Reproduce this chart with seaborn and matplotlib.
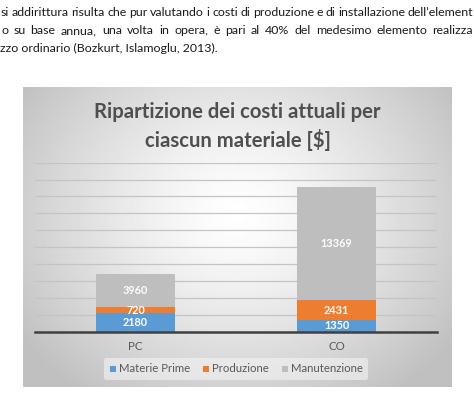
import numpy as np
import pandas as pd
import matplotlib
matplotlib.use("Agg")
import matplotlib.pyplot as plt
import seaborn as sns
from matplotlib.lines import Line2D

# ---------------- data ----------------
categories = ["PC", "CO"]
materie_prime = [2180, 1350]
produzione = [720, 2431]
manutenzione = [3960, 13369]
series_names = ["Materie Prime", "Produzione", "Manutenzione"]
series_colors = ["#5B9BD5", "#ED7D31", "#BEBEBE"]
y_ticks = list(range(0, 20001, 2000))
title_text = "Ripartizione dei costi attuali per\nciascun materiale [$]"
doc_lines = [
    "si addirittura risulta che pur valutando i costi di produzione e di installazione dell\u2019element",
    "o su base annua, una volta in opera, \u00e8 pari al 40% del medesimo elemento realizza",
    "zzo ordinario (Bozkurt, Islamoglu, 2013).",
]

sns.set_theme(style="white")
plt.rcParams['font.family'] = ['Lato', 'DejaVu Sans']

W, H = 474, 394
fig = plt.figure(figsize=(W / 100, H / 100), dpi=100)
fig.patch.set_facecolor("white")

# ---------------- document text above the chart ----------------
renderer = fig.canvas.get_renderer()
doc_size = 8.9
doc_y = [16, 34, 52]   # baselines in pixels from top
justify = [True, True, False]
for line, yy, jus in zip(doc_lines, doc_y, justify):
    if not jus:
        fig.text(0.5 / W, 1 - yy / H, line, ha="left", va="baseline",
                 fontsize=doc_size, color="#1a1a1a")
        continue
    words = line.split(" ")
    arts = [fig.text(0, 1 - yy / H, w, ha="left", va="baseline",
                     fontsize=doc_size, color="#1a1a1a") for w in words]
    widths = [a.get_window_extent(renderer).width for a in arts]
    x0, x1 = 1.0, 473.0
    gap = (x1 - x0 - sum(widths)) / (len(words) - 1)
    x = x0
    for a, wd in zip(arts, widths):
        a.set_x(x / W)
        x += wd + gap

# ---------------- chart box with radial gradient ----------------
box_l, box_t, box_r, box_b = 22.5, 87.3, 450.7, 386.7
bg = fig.add_axes([box_l / W, 1 - box_b / H, (box_r - box_l) / W, (box_b - box_t) / H])
ny, nx = 300, 428
yy, xx = np.mgrid[0:ny, 0:nx]
cx, cy = nx * 0.5, ny * 0.42
r = np.sqrt(((xx - cx) / (nx * 0.62)) ** 2 + ((yy - cy) / (ny * 0.75)) ** 2)
r = np.clip(r, 0, 1)
val = 1.0 - 0.25 * r ** 1.3
bg.imshow(val, cmap="gray", vmin=0, vmax=1, aspect="auto", interpolation="bilinear")
bg.set_axis_off()

# ---------------- plot area ----------------
pl, pr, pt, pb = 35, 437, 162.7, 331.7
ax = fig.add_axes([pl / W, 1 - pb / H, (pr - pl) / W, (pb - pt) / H])
ax.patch.set_alpha(0)

df = pd.DataFrame({
    "cat": categories,
    "mp": materie_prime,
    "prod": produzione,
    "man": manutenzione,
})
df["lvl1"] = df["mp"]
df["lvl2"] = df["mp"] + df["prod"]
df["lvl3"] = df["lvl2"] + df["man"]

bw = 0.39
for col, c in zip(["lvl3", "lvl2", "lvl1"], series_colors[::-1]):
    sns.barplot(data=df, x="cat", y=col, color=c, saturation=1, width=bw,
                ax=ax, zorder=3, linewidth=0, errorbar=None)

for i in range(len(df)):
    bottoms = [0, df["lvl1"][i], df["lvl2"][i]]
    vals = [df["mp"][i], df["prod"][i], df["man"][i]]
    for b, v in zip(bottoms, vals):
        ax.text(i, b + v / 2, f"{v}", ha="center", va="center", fontsize=7.8,
                fontweight="bold", color="white", zorder=5)

ax.set_ylim(0, 20000)
ax.set_xlim(-0.5, 1.5)
ax.set_yticks(y_ticks)
ax.yaxis.grid(True, color="#c4c4c4", linewidth=0.9, zorder=0)
ax.set_axisbelow(True)
ax.tick_params(axis="y", left=False, labelleft=False)
ax.tick_params(axis="x", length=0, pad=7, labelsize=8.3, labelcolor="#595959")
ax.set_xlabel("")
ax.set_ylabel("")
for s in ["top", "right", "left"]:
    ax.spines[s].set_visible(False)
ax.spines["bottom"].set_color("#404040")
ax.spines["bottom"].set_linewidth(1.8)
ax.spines["bottom"].set_zorder(6)

# ---------------- title ----------------
fig.text(0.501, 1 - 126.5 / H, title_text, ha="center", va="center",
         fontsize=14.6, fontweight="bold", color="#4f4f4f", linespacing=1.4)

# ---------------- legend ----------------
handles = [Line2D([0], [0], marker="s", linestyle="none", markersize=4.5,
                  markerfacecolor=c, markeredgewidth=0) for c in series_colors]
leg = fig.legend(handles, series_names, loc="center", bbox_to_anchor=(236 / W, 1 - 369 / H),
                 ncol=3, frameon=True, fontsize=8.2, handletextpad=0.15,
                 columnspacing=1.1, borderpad=0.45, handlelength=0.7)
leg.get_frame().set_facecolor("#f4f4f4")
leg.get_frame().set_alpha(0.6)
leg.get_frame().set_edgecolor("none")
for t in leg.get_texts():
    t.set_color("#595959")

fig.savefig("out.png", dpi=100)
